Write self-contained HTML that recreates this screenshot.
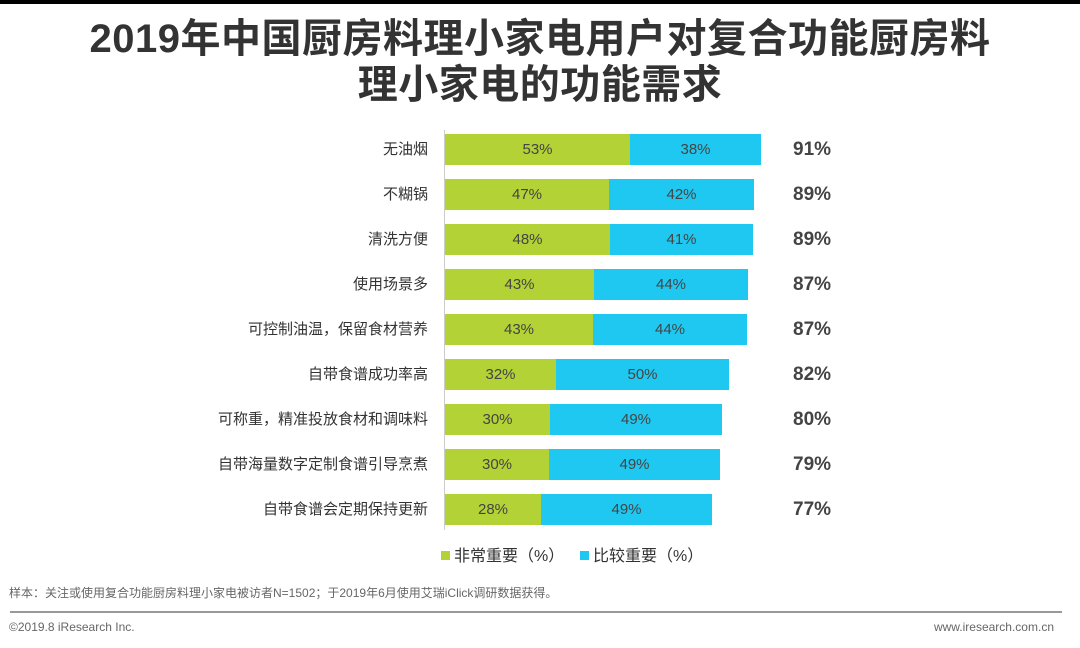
<!DOCTYPE html>
<html><head><meta charset="utf-8"><style>
body{margin:0;width:1080px;height:648px;background:#fff;position:relative;overflow:hidden;font-family:"Liberation Sans","Noto Sans CJK SC",sans-serif}
.top{position:absolute;left:0;top:0;width:1080px;height:4px;background:#000}
h1{position:absolute;left:0;top:16px;width:1080px;margin:0;text-align:center;font-size:40px;line-height:46px;font-weight:bold;color:#333;letter-spacing:0.5px}
.axis{position:absolute;left:444px;top:130px;width:1px;height:400px;background:#ccc}
.row{position:absolute;left:0;height:31px;width:1080px}
.lab{position:absolute;right:652px;top:0;line-height:31px;font-size:15px;color:#333;white-space:nowrap}
.g,.b{position:absolute;top:0;height:31px;line-height:31px;text-align:center;font-size:15px;color:#444}
.g{background:#b3d235}.b{background:#1fc8f0}
.tot{position:absolute;left:793px;top:0;line-height:31px;font-size:19px;font-weight:bold;color:#444}
.leg{position:absolute;top:546px;font-size:16px;color:#333;line-height:22px}
.sq{display:inline-block;width:9px;height:9px;margin-right:4px;vertical-align:1px}
.note{position:absolute;left:9px;top:584px;font-size:12px;color:#666}
.line{position:absolute;left:10px;top:611px;width:1052px;height:2px;background:#999}
.foot{position:absolute;top:620px;font-size:12px;color:#666}
</style></head><body>
<div class="top"></div>
<h1>2019年中国厨房料理小家电用户对复合功能厨房料<br>理小家电的功能需求</h1>
<div class="axis"></div>
<div class="row" style="top:134px"><div class="lab">无油烟</div><div class="g" style="left:445px;width:185px">53%</div><div class="b" style="left:630px;width:131px">38%</div><div class="tot">91%</div></div>
<div class="row" style="top:179px"><div class="lab">不糊锅</div><div class="g" style="left:445px;width:164px">47%</div><div class="b" style="left:609px;width:145px">42%</div><div class="tot">89%</div></div>
<div class="row" style="top:224px"><div class="lab">清洗方便</div><div class="g" style="left:445px;width:165px">48%</div><div class="b" style="left:610px;width:143px">41%</div><div class="tot">89%</div></div>
<div class="row" style="top:269px"><div class="lab">使用场景多</div><div class="g" style="left:445px;width:149px">43%</div><div class="b" style="left:594px;width:154px">44%</div><div class="tot">87%</div></div>
<div class="row" style="top:314px"><div class="lab">可控制油温，保留食材营养</div><div class="g" style="left:445px;width:148px">43%</div><div class="b" style="left:593px;width:154px">44%</div><div class="tot">87%</div></div>
<div class="row" style="top:359px"><div class="lab">自带食谱成功率高</div><div class="g" style="left:445px;width:111px">32%</div><div class="b" style="left:556px;width:173px">50%</div><div class="tot">82%</div></div>
<div class="row" style="top:404px"><div class="lab">可称重，精准投放食材和调味料</div><div class="g" style="left:445px;width:105px">30%</div><div class="b" style="left:550px;width:172px">49%</div><div class="tot">80%</div></div>
<div class="row" style="top:449px"><div class="lab">自带海量数字定制食谱引导烹煮</div><div class="g" style="left:445px;width:104px">30%</div><div class="b" style="left:549px;width:171px">49%</div><div class="tot">79%</div></div>
<div class="row" style="top:494px"><div class="lab">自带食谱会定期保持更新</div><div class="g" style="left:445px;width:96px">28%</div><div class="b" style="left:541px;width:171px">49%</div><div class="tot">77%</div></div>
<div class="leg" style="left:441px"><span class="sq" style="background:#b3d235"></span>非常重要（%）</div>
<div class="leg" style="left:580px"><span class="sq" style="background:#1fc8f0"></span>比较重要（%）</div>
<div class="note">样本：关注或使用复合功能厨房料理小家电被访者N=1502；于2019年6月使用艾瑞iClick调研数据获得。</div>
<div class="line"></div>
<div class="foot" style="left:9px">©2019.8 iResearch Inc.</div>
<div class="foot" style="right:26px">www.iresearch.com.cn</div>
</body></html>
